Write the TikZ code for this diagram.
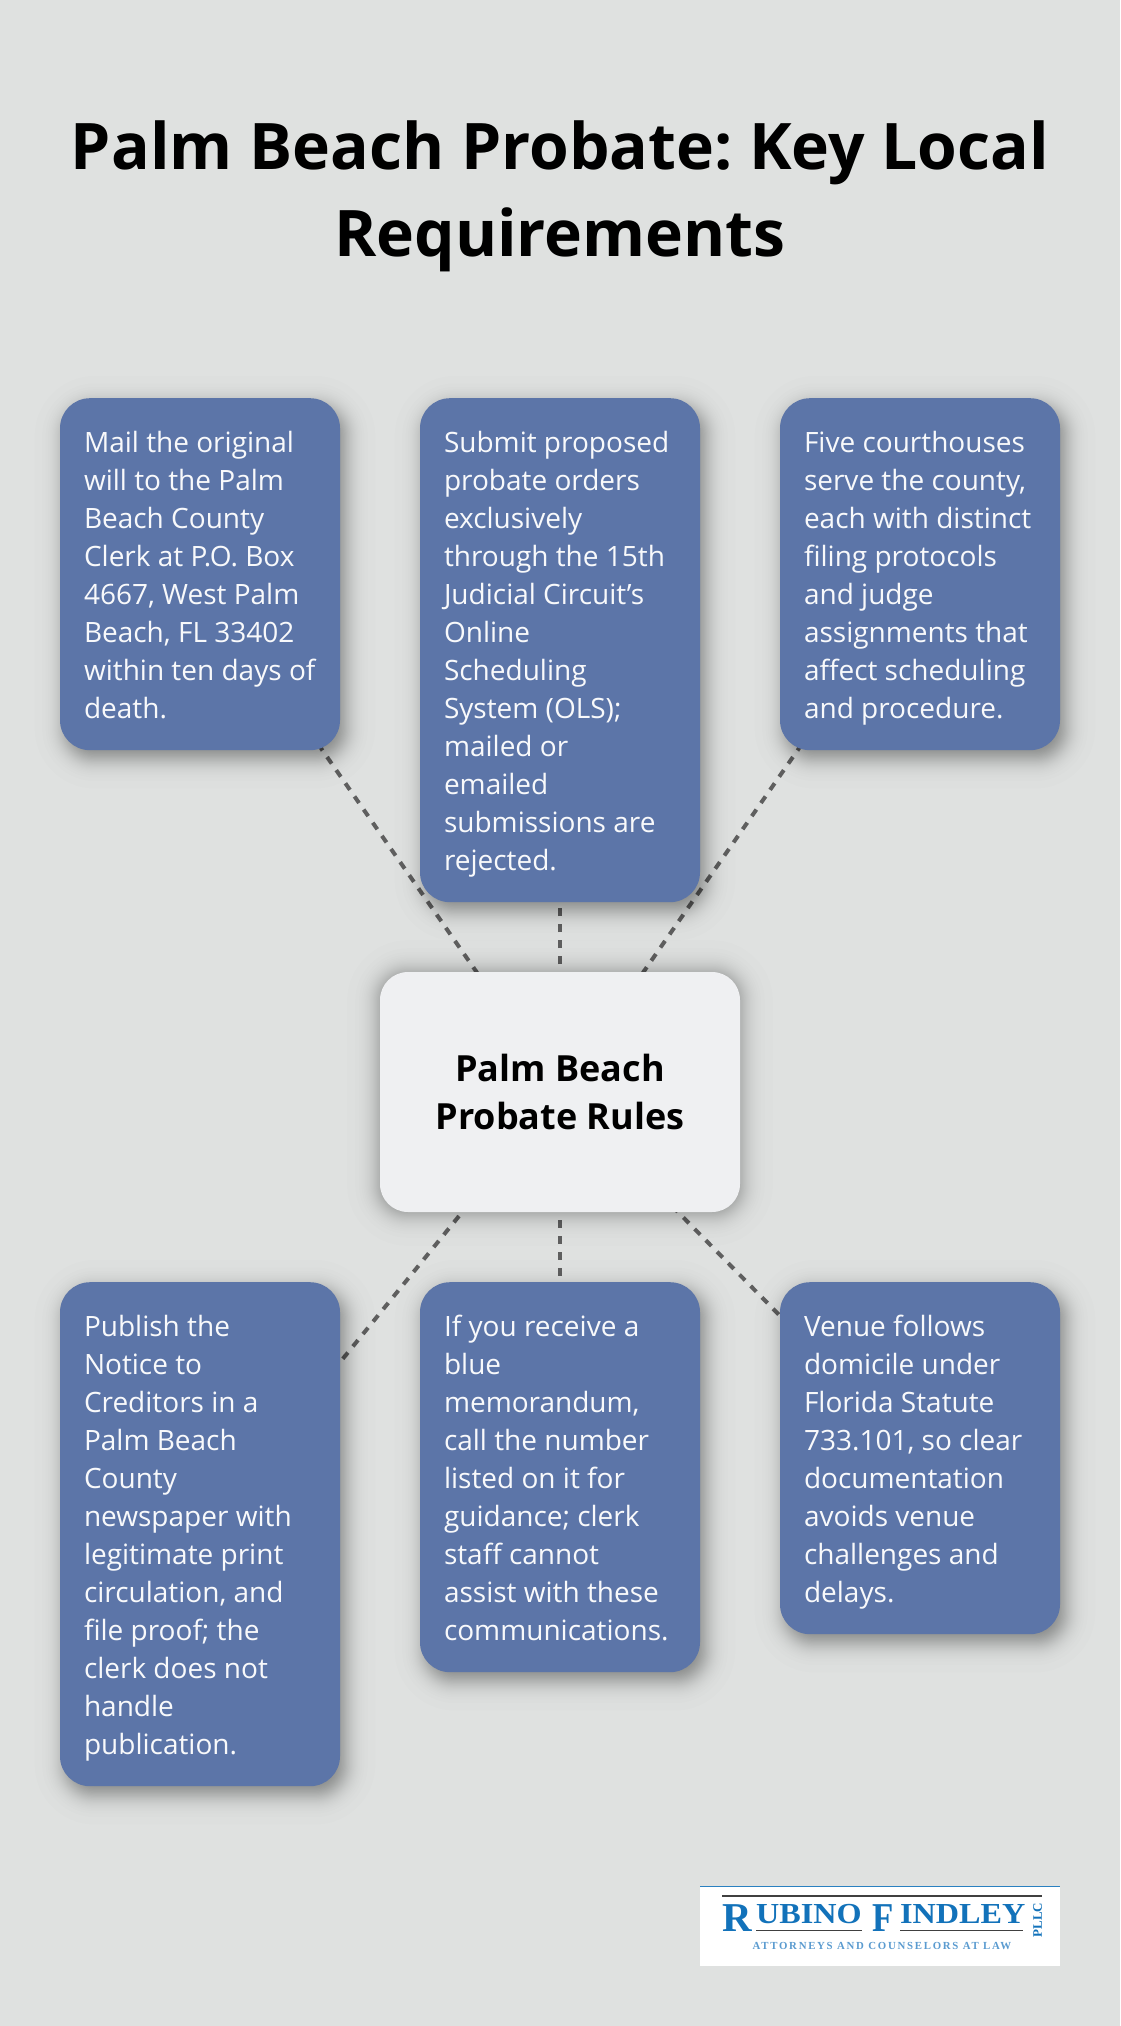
\documentclass[tikz,border=0pt]{standalone}
\usepackage{fontspec}
\setmainfont{Open Sans}
\newfontfamily\logofont{Liberation Serif}
\newfontfamily\logospaced[LetterSpace = 16]{Liberation Serif}
\frenchspacing
\usetikzlibrary{backgrounds, calc}
\definecolor{pagegray}{HTML}{DFE1E0}
\definecolor{boxblue}{HTML}{5C75A8}
\definecolor{hubgray}{HTML}{EFF0F2}
\definecolor{linkgray}{HTML}{5F5F5F}
\definecolor{logoblue}{HTML}{1272BA}
\definecolor{taglineblue}{HTML}{5A9BD0}
% node, x offset, y offset, spread, corner radius, opacity of one layer
\newcommand{\softshadow}[6]{
  \foreach \i in {1, ..., 48}{
    \pgfmathsetmacro{\p}{(\i - .5)/48}
    \pgfmathsetmacro{\s}{#4*.5513*ln(\p/(1 - \p))}
    \pgfmathsetmacro{\r}{max(#5 + \s, 1)}
    \fill[black, opacity = #6, rounded corners = \r pt] ($(#1.north west) + (#2 - \s, #3 - \s)$) rectangle ($(#1.south east) + (#2 + \s, #3 + \s)$);
  }
}
\begin{document}
\begin{tikzpicture}[
  x = 1pt, y = -1pt,
  infobox/.style = {fill = boxblue, text = white!96!boxblue, rounded corners = 30pt, anchor = north,
    minimum width = 280pt, text width = 232pt, inner sep = 0pt, align = left,
    font = \fontsize{28}{38}\selectfont,
    execute at begin node = {\spaceskip = 7.28pt\relax\rule{0pt}{32pt}},
    execute at end node = \rule[-9pt]{0pt}{9pt}},
  hub/.style = {fill = hubgray, rounded corners = 28pt, minimum width = 360pt, minimum height = 240pt,
    align = center, font = \fontsize{36}{48}\selectfont\bfseries,
    execute at begin node = \rule{0pt}{35pt}},
  link/.style = {draw = linkgray, line width = 4, dash pattern = on 8pt off 8pt},
  logorule/.style = {draw = black!75, line width = 1.6},
  logoword/.style = {text = logoblue, inner sep = 0pt}
]
\useasboundingbox (0, 0) rectangle (1120, 2026);
\node[align = center, font = \fontsize{64.2}{87}\selectfont\bfseries] (title) at (560, 196)
  {Palm Beach Probate: Key Local\\Requirements};

\node[hub] (rules) at (560, 1092) {Palm Beach\\Probate Rules};

\node[infobox, minimum height = 352pt] (mail) at (200, 398) {Mail the original\\will to the Palm\\Beach County\\Clerk at P.O. Box\\4667, West Palm\\Beach, FL 33402\\within ten days of\\death.};
\node[infobox, minimum height = 504pt] (orders) at (560, 398) {Submit proposed\\probate orders\\exclusively\\through the 15th\\Judicial Circuit’s\\Online\\Scheduling\\System (OLS);\\mailed or\\emailed\\submissions are\\rejected.};
\node[infobox, minimum height = 352pt] (courts) at (920, 398) {Five courthouses\\serve the county,\\each with distinct\\filing protocols\\and judge\\assignments that\\affect scheduling\\and procedure.};
\node[infobox, minimum height = 504pt] (notice) at (200, 1282) {Publish the\\Notice to\\Creditors in a\\Palm Beach\\County\\newspaper with\\legitimate print\\circulation, and\\file proof; the\\clerk does not\\handle\\publication.};
\node[infobox, minimum height = 390pt] (memo) at (560, 1282) {If you receive a\\blue\\memorandum,\\call the number\\listed on it for\\guidance; clerk\\staff cannot\\assist with these\\communications.};
\node[infobox, minimum height = 352pt] (venue) at (920, 1282) {Venue follows\\domicile under\\Florida Statute\\733.101, so clear\\documentation\\avoids venue\\challenges and\\delays.};

\begin{pgfonlayer}{background}
\fill[pagegray] (0, 0) rectangle (1120, 2026);
\foreach \t in {mail, orders, courts, notice, memo, venue}{
  \draw[link] (rules.center) -- (\t.center);
}
\softshadow{rules}{0}{1}{13}{28}{.006}
\foreach \t in {mail, orders, courts, notice, memo, venue}{
  \softshadow{\t}{5}{8}{12}{30}{.0095}
}
\end{pgfonlayer}

% logo
\fill[white] (700, 1886) rectangle (1060, 1966);
\draw[draw = logoblue!90!white, line width = 1] (700, 1886.5) -- (1060, 1886.5);
\draw[logorule] (722, 1896) -- (1042, 1896);
\draw[logorule] (756, 1930.5) -- (862, 1930.5);
\draw[logorule] (900, 1930.5) -- (1023, 1930.5);
\node[logoword, anchor = base west, font = \fontsize{41}{41}\logofont\bfseries] (logoR) at (722, 1931) {R};
\node[logoword, anchor = base west, font = \fontsize{29}{29}\logofont\bfseries] (logoU) at (756, 1923) {\scalebox{1.11}[1]{UBINO}};
\node[logoword, anchor = base west, font = \fontsize{41}{41}\logofont\bfseries] (logoF) at (872, 1931) {\scalebox{.85}[1]{F}};
\node[logoword, anchor = base west, font = \fontsize{29}{29}\logofont\bfseries] (logoI) at (900, 1923) {\scalebox{1.11}[1]{INDLEY}};
\node[logoword, rotate = 90, font = \fontsize{13}{13}\logofont\bfseries] (logoP) at (1037.5, 1920) {PLLC};
\node[logoword, text = taglineblue, font = \fontsize{10.8}{11}\logospaced\bfseries] (tagline) at (882, 1946) {ATTORNEYS AND COUNSELORS AT LAW};
\end{tikzpicture}
\end{document}
